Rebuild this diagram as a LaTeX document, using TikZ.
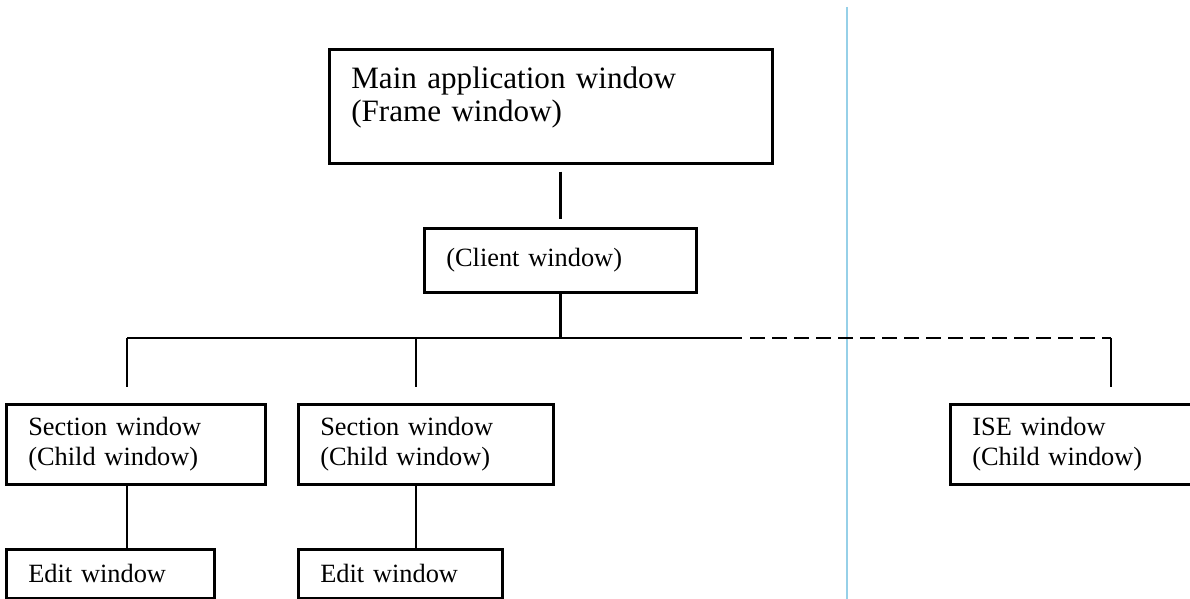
\documentclass[tikz,border=0pt]{standalone}
\usepackage{fontspec}
\setmainfont{Liberation Serif}
\usetikzlibrary{calc,positioning}
\definecolor{marginblue}{RGB}{150,208,232}

\begin{document}
\begin{tikzpicture}[line width=1.5pt,
  win/.style={draw,rectangle,anchor=north west,align=left,inner xsep=0.44cm,
    inner ysep=0pt,font=\fontsize{15}{17}\selectfont},
  link/.style={line width=1.4pt},
  gap/.style={shorten <=0.14cm,shorten >=0.16cm}]
  \useasboundingbox (0,0) rectangle (23.8,11.98);
  % --- margin line ---
  \draw[line width=0.8pt,marginblue] (16.94,11.84) -- (16.94,0);
  % --- windows ---
  \node[win,text width=7.98cm,minimum height=2.28cm,text height=0.77cm,text depth=1.47cm,
    font=\fontsize{17.7}{18.6}\selectfont] (main) at (6.56,11.02)
    {Main application window\\(Frame window)};
  \node[win,text width=4.56cm,minimum height=1.28cm] (client) at (8.46,7.44) {(Client window)};
  \node[win,text width=4.30cm,minimum height=1.60cm] (sec1) at (0.10,3.92)
    {Section window\\(Child window)};
  \node[win,text width=4.22cm,minimum height=1.60cm] (sec2) at (5.94,3.92)
    {Section window\\(Child window)};
  \node[win,text width=4.30cm,minimum height=1.60cm] (ise) at (18.98,3.92)
    {ISE window\\(Child window)};
  \node[win,text width=3.28cm,minimum height=0.98cm] (edit1) at (0.10,1.02) {Edit window};
  \node[win,text width=3.20cm,minimum height=0.98cm] (edit2) at (5.94,1.02) {Edit window};
  % --- taps on the bus ---
  \coordinate (t1) at (2.54,5.22);
  \coordinate (t2) at (8.32,5.22);
  \coordinate (t3) at (22.22,5.22);
  \coordinate (tc) at (client.south |- t1);
  \coordinate (td) at (15.00,5.22);
  % --- connectors ---
  \draw[link,gap] (main.south -| client.north) -- (client.north);
  \draw[link] (client.south) -- (tc);
  \draw[link] (t1) -- (14.84,5.22);
  \draw[link,dash pattern=on 0.30cm off 0.14cm] (td) -- (t3);
  \draw[link,shorten >=0.32cm] (t1) -- (t1 |- sec1.north);
  \draw[link,shorten >=0.32cm] (t2) -- (t2 |- sec2.north);
  \draw[link,shorten >=0.32cm] (t3) -- (t3 |- ise.north);
  \draw[link] (t1 |- sec1.south) -- (t1 |- edit1.north);
  \draw[link] (t2 |- sec2.south) -- (t2 |- edit2.north);
\end{tikzpicture}
\end{document}
